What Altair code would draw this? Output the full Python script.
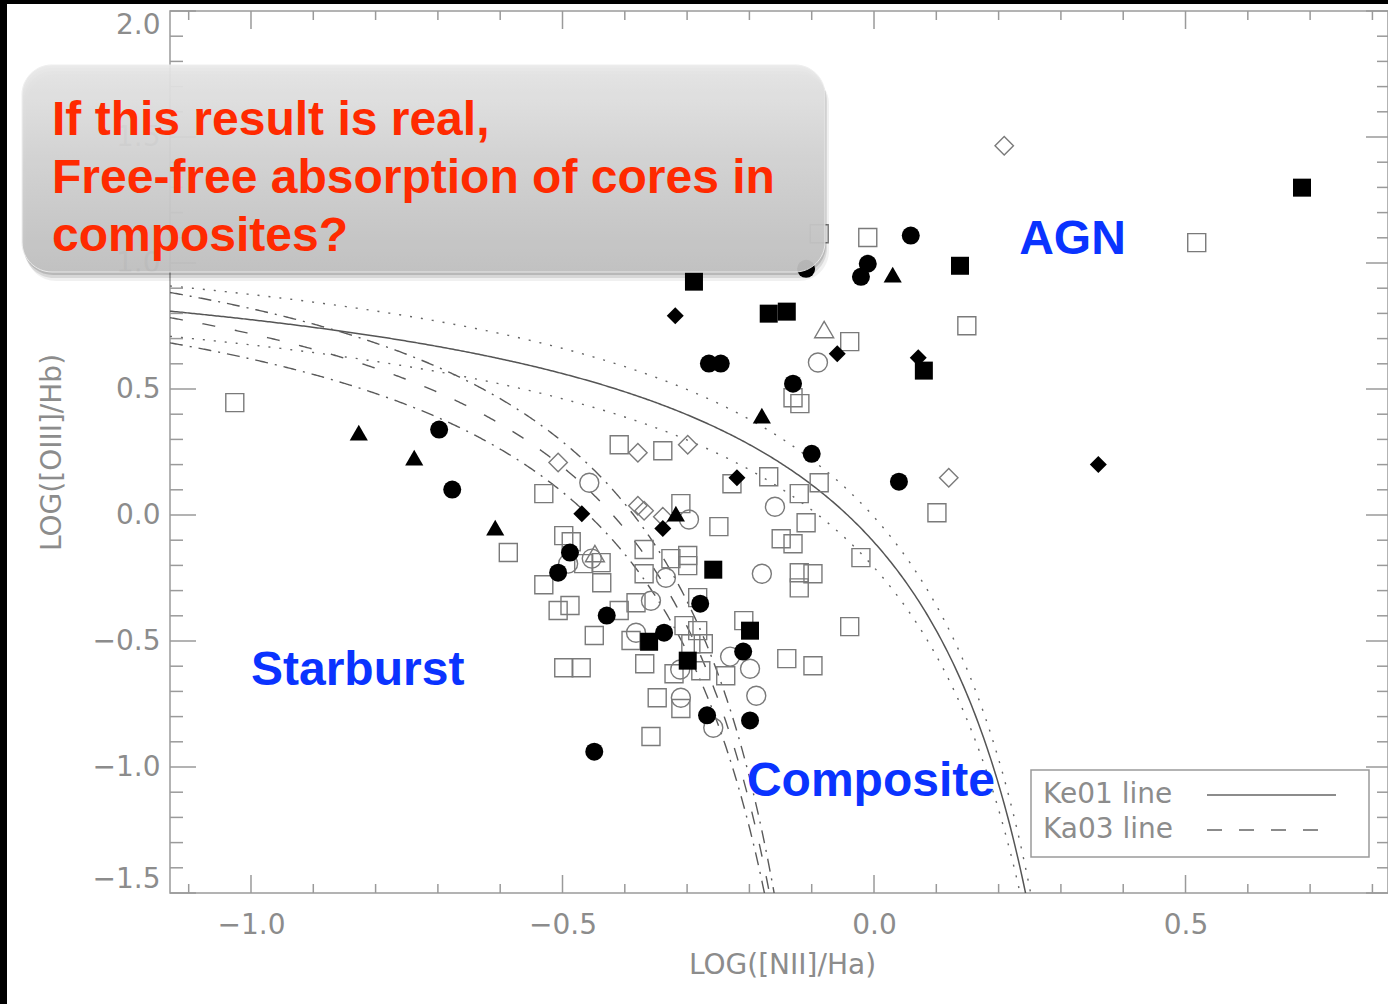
import altair as alt
import numpy as np
import pandas as pd

# ---------------- data ----------------
# filled circles
FC_X = [0.059, -0.109, -0.010, -0.021, -0.265, -0.246, -0.130, -0.100, 0.040, -0.698,
        -0.677, -0.488, -0.507, -0.429, -0.279, -0.337, -0.210, -0.268, -0.199, -0.449]
FC_Y = [1.109, 0.977, 0.997, 0.945, 0.601, 0.601, 0.521, 0.243, 0.132, 0.339,
        0.101, -0.149, -0.229, -0.399, -0.352, -0.467, -0.542, -0.795, -0.815, -0.939]
# filled squares
FS_X = [0.687, 0.138, -0.289, -0.169, -0.140, 0.080, -0.258, -0.361, -0.199, -0.299]
FS_Y = [1.299, 0.989, 0.926, 0.799, 0.807, 0.573, -0.217, -0.503, -0.459, -0.578]
# filled triangles
FT_X = [0.030, -0.180, -0.827, -0.738, -0.608, -0.318]
FT_Y = [0.954, 0.394, 0.327, 0.228, -0.050, 0.005]
# filled diamonds
FD_X = [-0.319, -0.059, 0.071, 0.360, -0.220, -0.469, -0.339]
FD_Y = [0.791, 0.640, 0.624, 0.200, 0.148, 0.005, -0.054]
# open squares
OS_X = [-0.088, -0.010, 0.518, 0.149, -0.039, -0.130, -0.119, -1.026, -0.409, -0.339,
        -0.228, -0.169, -0.088, -0.120, -0.530, 0.101, -0.310, -0.249, -0.109, -0.149,
        -0.130, -0.587, -0.498, -0.486, -0.438, -0.466, -0.530, -0.437, -0.369, -0.326,
        -0.299, -0.299, -0.021, -0.120, -0.098, -0.120, -0.369, -0.507, -0.488, -0.409,
        -0.382, -0.283, -0.449, -0.390, -0.305, -0.283, -0.294, -0.274, -0.209, -0.498,
        -0.470, -0.368, -0.321, -0.278, -0.238, -0.140, -0.098, -0.039, -0.348, -0.310,
        -0.358]
OS_Y = [1.116, 1.101, 1.081, 0.751, 0.688, 0.465, 0.442, 0.446, 0.279, 0.255,
        0.124, 0.152, 0.128, 0.085, 0.085, 0.009, 0.045, -0.046, -0.031, -0.094,
        -0.114, -0.149, -0.082, -0.106, -0.189, -0.193, -0.277, -0.269, -0.137, -0.173,
        -0.161, -0.201, -0.169, -0.229, -0.233, -0.289, -0.233, -0.379, -0.359, -0.379,
        -0.348, -0.328, -0.478, -0.498, -0.439, -0.459, -0.511, -0.511, -0.419, -0.606,
        -0.606, -0.590, -0.630, -0.618, -0.638, -0.570, -0.598, -0.443, -0.725, -0.768,
        -0.879]
# open circles
OC_X = [-0.090, -0.457, -0.159, -0.297, -0.491, -0.453, -0.334, -0.180, -0.358, -0.382,
        -0.231, -0.199, -0.311, -0.310, -0.189, -0.258]
OC_Y = [0.605, 0.128, 0.033, -0.018, -0.193, -0.173, -0.249, -0.233, -0.340, -0.467,
        -0.562, -0.610, -0.613, -0.725, -0.717, -0.844]
# open diamonds
OD_X = [0.209, 0.120, -0.379, -0.299, -0.507, -0.379, -0.369, -0.339]
OD_Y = [1.465, 0.148, 0.247, 0.279, 0.208, 0.037, 0.017, -0.007]
# open triangles
OT_X = [-0.080, -0.448]
OT_Y = [0.736, -0.153]

# axis ticks
X_MAJOR = [-1.0, -0.5, 0.0, 0.5]
X_MINOR = [-1.1, -0.9, -0.8, -0.7, -0.6, -0.4, -0.3, -0.2, -0.1, 0.1, 0.2, 0.3, 0.4, 0.6, 0.7, 0.8]
Y_MAJOR = [-1.5, -1.0, -0.5, 0.0, 0.5, 1.0, 1.5, 2.0]
Y_MINOR = [-1.4, -1.3, -1.2, -1.1, -0.9, -0.8, -0.7, -0.6, -0.4, -0.3, -0.2, -0.1,
           0.1, 0.2, 0.3, 0.4, 0.6, 0.7, 0.8, 0.9, 1.1, 1.2, 1.3, 1.4, 1.6, 1.7, 1.8, 1.9]

# demarcation curves: y = A / (x - X0) + B (+ offset)
KE01 = dict(A=0.61, X0=0.47, B=1.19)
KA03 = dict(A=0.61, X0=0.05, B=1.30)
OFFSETS = [0.1, -0.1]

# region labels
REGION_TEXT = ["AGN", "Starburst", "Composite"]
REGION_X = [0.233, -1.0, -0.204]
REGION_Y = [1.037, -0.673, -1.114]

NOTE_LINES = ["If this result is real,", "Free-free absorption of cores in", "composites?"]
LEGEND_TEXT = ["Ke01 line", "Ka03 line"]

X_DOMAIN = [-1.13, 0.825]
Y_DOMAIN = [-1.5, 2.0]
W, H = 1218, 882

xs = alt.Scale(domain=X_DOMAIN, nice=False, zero=False)
ys = alt.Scale(domain=Y_DOMAIN, nice=False, zero=False)


def curve(p, off, name):
    xend = p["X0"] + p["A"] / (Y_DOMAIN[0] - 0.02 - p["B"] - off)
    xg = np.linspace(X_DOMAIN[0], xend, 500)
    yg = p["A"] / (xg - p["X0"]) + p["B"] + off
    return pd.DataFrame({"x": xg, "y": yg, "c": name})


ke_main = curve(KE01, 0.0, "ke")
ke_err = pd.concat([curve(KE01, o, f"ke{o}") for o in OFFSETS])
ka_main = curve(KA03, 0.0, "ka")
ka_err = pd.concat([curve(KA03, o, f"ka{o}") for o in OFFSETS])

AX_COLOR = "#8c8c8c"
AX_FONT = "DejaVu Sans"

X_AXIS = alt.Axis(values=X_MAJOR, format=".1f", title="LOG([NII]/Ha)",
                  ticks=False, domain=False, grid=False,
                  labelFont=AX_FONT, labelFontSize=28, labelColor=AX_COLOR,
                  labelPadding=32, labelBaseline="middle", labelFlush=False,
                  titleFont=AX_FONT, titleFontSize=28, titleFontWeight="normal", titleColor=AX_COLOR,
                  titleX=W / 2 + 3, titleY=72, titleBaseline="middle")
Y_AXIS = alt.Axis(values=Y_MAJOR, format=".1f", title="LOG([OIII]/Hb)",
                  ticks=False, domain=False, grid=False,
                  labelFont=AX_FONT, labelFontSize=28, labelColor=AX_COLOR,
                  labelPadding=10, labelFlush=True,
                  titleFont=AX_FONT, titleFontSize=28, titleFontWeight="normal", titleColor=AX_COLOR,
                  titleX=-118, titleY=H / 2, titleAngle=270, titleBaseline="middle")


def X(field):
    return alt.X(field, scale=xs, axis=X_AXIS)


def Y(field):
    return alt.Y(field, scale=ys, axis=Y_AXIS)


def lines(df, dash, color="#5a5a5a", width=1.4):
    kw = dict(color=color, strokeWidth=width, clip=True)
    if dash:
        kw["strokeDash"] = dash
    return alt.Chart(df).mark_line(**kw).encode(x=X("x:Q"), y=Y("y:Q"), detail="c:N")


layers = [lines(ke_main, None, "#555555", 1.5),
          lines(ke_err, [2, 9], "#666666"),
          lines(ka_main, [13, 20]),
          lines(ka_err, [13, 7, 2, 7])]


# ticks
def xticks(vals, y0, y1):
    return alt.Chart(pd.DataFrame({"v": vals})).mark_rule(color="#9a9a9a", strokeWidth=1.5).encode(
        x=X("v:Q"), y=alt.value(y0), y2=alt.value(y1))


def yticks(vals, x0, x1):
    return alt.Chart(pd.DataFrame({"v": vals})).mark_rule(color="#9a9a9a", strokeWidth=1.5).encode(
        y=Y("v:Q"), x=alt.value(x0), x2=alt.value(x1))


layers += [xticks(X_MAJOR, H - 18, H), xticks(X_MINOR, H - 9, H),
           xticks(X_MAJOR, 0, 18), xticks(X_MINOR, 0, 9),
           yticks(Y_MAJOR, 0, 26), yticks(Y_MINOR, 0, 13),
           yticks(Y_MAJOR, W - 22, W), yticks(Y_MINOR, W - 11, W)]


# points
def pts(xv, yv, shape, filled, size, color):
    df = pd.DataFrame({"x": xv, "y": yv})
    if filled:
        m = alt.Chart(df).mark_point(shape=shape, filled=True, color=color, size=size, opacity=1)
    else:
        m = alt.Chart(df).mark_point(shape=shape, filled=False, color=color, size=size, opacity=1,
                                     strokeWidth=1.4)
    return m.encode(x=X("x:Q"), y=Y("y:Q"))


OPEN = "#7a7a7a"
layers += [pts(OS_X, OS_Y, "square", False, 324, OPEN),
           pts(OC_X, OC_Y, "circle", False, 361, OPEN),
           pts(OD_X, OD_Y, "diamond", False, 340, OPEN),
           pts(OT_X, OT_Y, "triangle-up", False, 361, OPEN),
           pts(FS_X, FS_Y, "square", True, 324, "black"),
           pts(FC_X, FC_Y, "circle", True, 324, "black"),
           pts(FT_X, FT_Y, "triangle-up", True, 330, "black"),
           pts(FD_X, FD_Y, "diamond", True, 289, "black")]

# region labels
reg = pd.DataFrame({"t": REGION_TEXT, "x": REGION_X, "y": REGION_Y})
layers.append(alt.Chart(reg).mark_text(font="Liberation Sans", fontSize=48, fontWeight="bold",
                                       color="#0a33ff", align="left", baseline="alphabetic").encode(
    x=X("x:Q"), y=Y("y:Q"), text="t:N"))

# legend box
one = pd.DataFrame({"a": [0]})
layers.append(alt.Chart(one).mark_rect(fill="white", stroke="#9a9a9a", strokeWidth=1.5).encode(
    x=alt.value(861), x2=alt.value(1199), y=alt.value(759), y2=alt.value(846)))
for txt, yy in zip(LEGEND_TEXT, [784, 819]):
    layers.append(alt.Chart(one).mark_text(text=txt, font=AX_FONT, fontSize=28, color=AX_COLOR,
                                           align="left", baseline="middle").encode(
        x=alt.value(873), y=alt.value(yy)))
layers.append(alt.Chart(one).mark_rule(color="#666666", strokeWidth=1.4).encode(
    x=alt.value(1037), x2=alt.value(1166), y=alt.value(784)))
layers.append(alt.Chart(one).mark_rule(color="#666666", strokeWidth=1.4, strokeDash=[15, 17]).encode(
    x=alt.value(1037), x2=alt.value(1152), y=alt.value(819)))

# slide note box with shadow
for dx, dy, op in [(4, 9, 0.06), (2, 6, 0.10), (1, 3, 0.14)]:
    layers.append(alt.Chart(one).mark_rect(cornerRadius=30, color="black", opacity=op).encode(
        x=alt.value(-148 + dx), x2=alt.value(655 + dx), y=alt.value(54 + dy), y2=alt.value(261 + dy)))
grad = alt.Gradient(gradient="linear",
                    stops=[alt.GradientStop(color="#e9e9e9", offset=0),
                           alt.GradientStop(color="#d3d3d3", offset=0.5),
                           alt.GradientStop(color="#c2c2c2", offset=1)],
                    x1=0, x2=0, y1=0, y2=1)
layers.append(alt.Chart(one).mark_rect(cornerRadius=30, fill=grad, opacity=0.93, stroke="#eeeeee",
                                       strokeWidth=1).encode(
    x=alt.value(-148), x2=alt.value(655), y=alt.value(54), y2=alt.value(261)))
layers.append(alt.Chart(one).mark_text(text=NOTE_LINES, font="Liberation Sans", fontSize=48,
                                       fontWeight="bold", color="#ff2a00", align="left",
                                       baseline="alphabetic", lineHeight=58).encode(
    x=alt.value(-118), y=alt.value(124)))

# dark frame strips of the slide
layers.append(alt.Chart(one).mark_rect(color="black").encode(
    x=alt.value(-170), x2=alt.value(-163), y=alt.value(-11), y2=alt.value(993)))
layers.append(alt.Chart(one).mark_rect(color="black").encode(
    x=alt.value(-170), x2=alt.value(W), y=alt.value(-11), y2=alt.value(-7)))

chart = alt.layer(*layers).properties(
    width=W, height=H,
    autosize=alt.AutoSizeParams(type="none"),
    padding={"left": 170, "top": 11, "right": 0, "bottom": 111},
    background="white",
).configure_view(stroke="#9a9a9a", strokeWidth=1.5)

chart.save("out.html", embed_options={"renderer": "svg", "actions": False})
